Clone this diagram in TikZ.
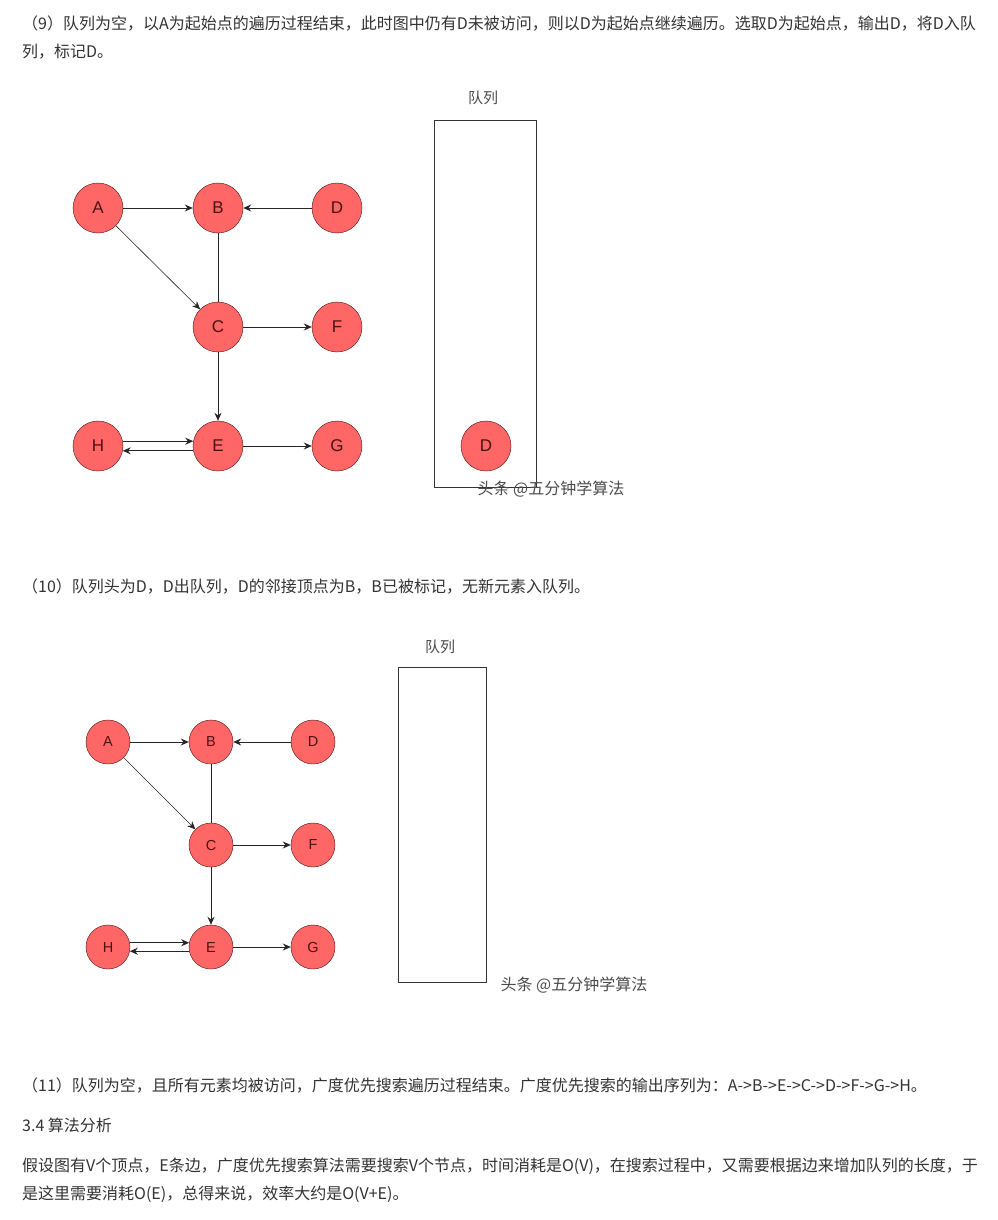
\documentclass[tikz,border=0pt]{standalone}
\usepackage{fontspec}
\setmainfont{Liberation Sans}
\newfontfamily\cjk{Noto Sans CJK SC}
\usetikzlibrary{arrows.meta}
\definecolor{vertex red}{rgb}{1.0, 0.4, 0.4}
\definecolor{vertex rim}{rgb}{0.3, 0.07, 0.07}
\definecolor{body gray}{rgb}{0.2, 0.2, 0.2}

\begin{document}
\begin{tikzpicture}[x=1pt, y=-1pt,
		vertex/.style={circle, draw=vertex rim, fill=vertex red, minimum size=50pt,
			inner sep=0pt, text=vertex rim, font=\fontsize{17}{17}\selectfont},
		small vertex/.style={vertex, minimum size=44pt, font=\fontsize{14.5}{14.5}\selectfont},
		edge/.style={draw=black!85, line width=1pt, -{Stealth[length=8pt, width=7pt]}},
		plain edge/.style={draw=black!85, line width=1pt},
		para/.style={anchor=west, inner sep=0pt, text=body gray, font=\cjk\fontsize{16}{16}\selectfont},
		queue/.style={draw=black!80, line width=1pt},
		queue label/.style={text=black!70, font=\cjk\fontsize{15}{15}\selectfont},
		watermark/.style={text=black!70, font=\cjk\fontsize{16}{16}\selectfont}]
		\useasboundingbox (0, 0) rectangle (997, 1220);
		\fill[white] (0, 0) rectangle (997, 1220);
		% part for step 9
		\node[para] (t1) at (22, 24) {（9）队列为空，以A为起始点的遍历过程结束，此时图中仍有D未被访问，则以D为起始点继续遍历。选取D为起始点，输出D，将D入队};
		\node[para] (t2) at (22, 52) {列，标记D。};
		\begin{scope}
			\node[vertex] (A) at (98, 208) {A};
			\node[vertex] (B) at (218, 208) {B};
			\node[vertex] (D) at (337, 208) {D};
			\node[vertex] (C) at (218, 327) {C};
			\node[vertex] (F) at (337, 327) {F};
			\node[vertex] (H) at (98, 446) {H};
			\node[vertex] (E) at (218, 446) {E};
			\node[vertex] (G) at (337, 446) {G};
			\draw[edge] (A) -- (B);
			\draw[edge] (D) -- (B);
			\draw[plain edge] (B) -- (C);
			\draw[edge, line width=0.6pt] (A) -- (C);
			\draw[edge] (C) -- (F);
			\draw[edge] (C) -- (E);
			\draw[edge] (H.11) -- (E.169);
			\draw[edge] (E.191) -- (H.349);
			\draw[edge] (E) -- (G);
		\end{scope}
		% queue with D
		\node[queue label] (q1) at (483, 98) {队列};
		\draw[queue] (434, 121) rectangle (536, 487);
		\node[vertex] (qD) at (486, 446) {D};
		\node[watermark, anchor=west] (w1) at (474, 489) {头条 @五分钟学算法};
		% part for step 10
		\node[para] (t3) at (22, 587) {（10）队列头为D，D出队列，D的邻接顶点为B，B已被标记，无新元素入队列。};
		\begin{scope}
			\node[small vertex] (a) at (108, 742) {A};
			\node[small vertex] (b) at (211, 742) {B};
			\node[small vertex] (d) at (313, 742) {D};
			\node[small vertex] (c) at (211, 845) {C};
			\node[small vertex] (f) at (313, 845) {F};
			\node[small vertex] (h) at (108, 947) {H};
			\node[small vertex] (e) at (211, 947) {E};
			\node[small vertex] (g) at (313, 947) {G};
			\draw[edge] (a) -- (b);
			\draw[edge] (d) -- (b);
			\draw[plain edge] (b) -- (c);
			\draw[edge, line width=0.6pt] (a) -- (c);
			\draw[edge] (c) -- (f);
			\draw[edge] (c) -- (e);
			\draw[edge] (h.11) -- (e.169);
			\draw[edge] (e.191) -- (h.349);
			\draw[edge] (e) -- (g);
		\end{scope}
		% empty queue
		\node[queue label] (q2) at (440, 647) {队列};
		\draw[queue] (398, 667) rectangle (486, 982);
		\node[watermark, anchor=west] (w2) at (497, 985) {头条 @五分钟学算法};
		% part for step 11 and analysis
		\node[para] (t4) at (22, 1085) {（11）队列为空，且所有元素均被访问，广度优先搜索遍历过程结束。广度优先搜索的输出序列为：A->B->E->C->D->F->G->H。};
		\node[para] (t5) at (22, 1125) {3.4 算法分析};
		\node[para] (t6) at (22, 1166) {假设图有V个顶点，E条边，广度优先搜索算法需要搜索V个节点，时间消耗是O(V)，在搜索过程中，又需要根据边来增加队列的长度，于};
		\node[para] (t7) at (22, 1194) {是这里需要消耗O(E)，总得来说，效率大约是O(V+E)。};
\end{tikzpicture}
\end{document}
